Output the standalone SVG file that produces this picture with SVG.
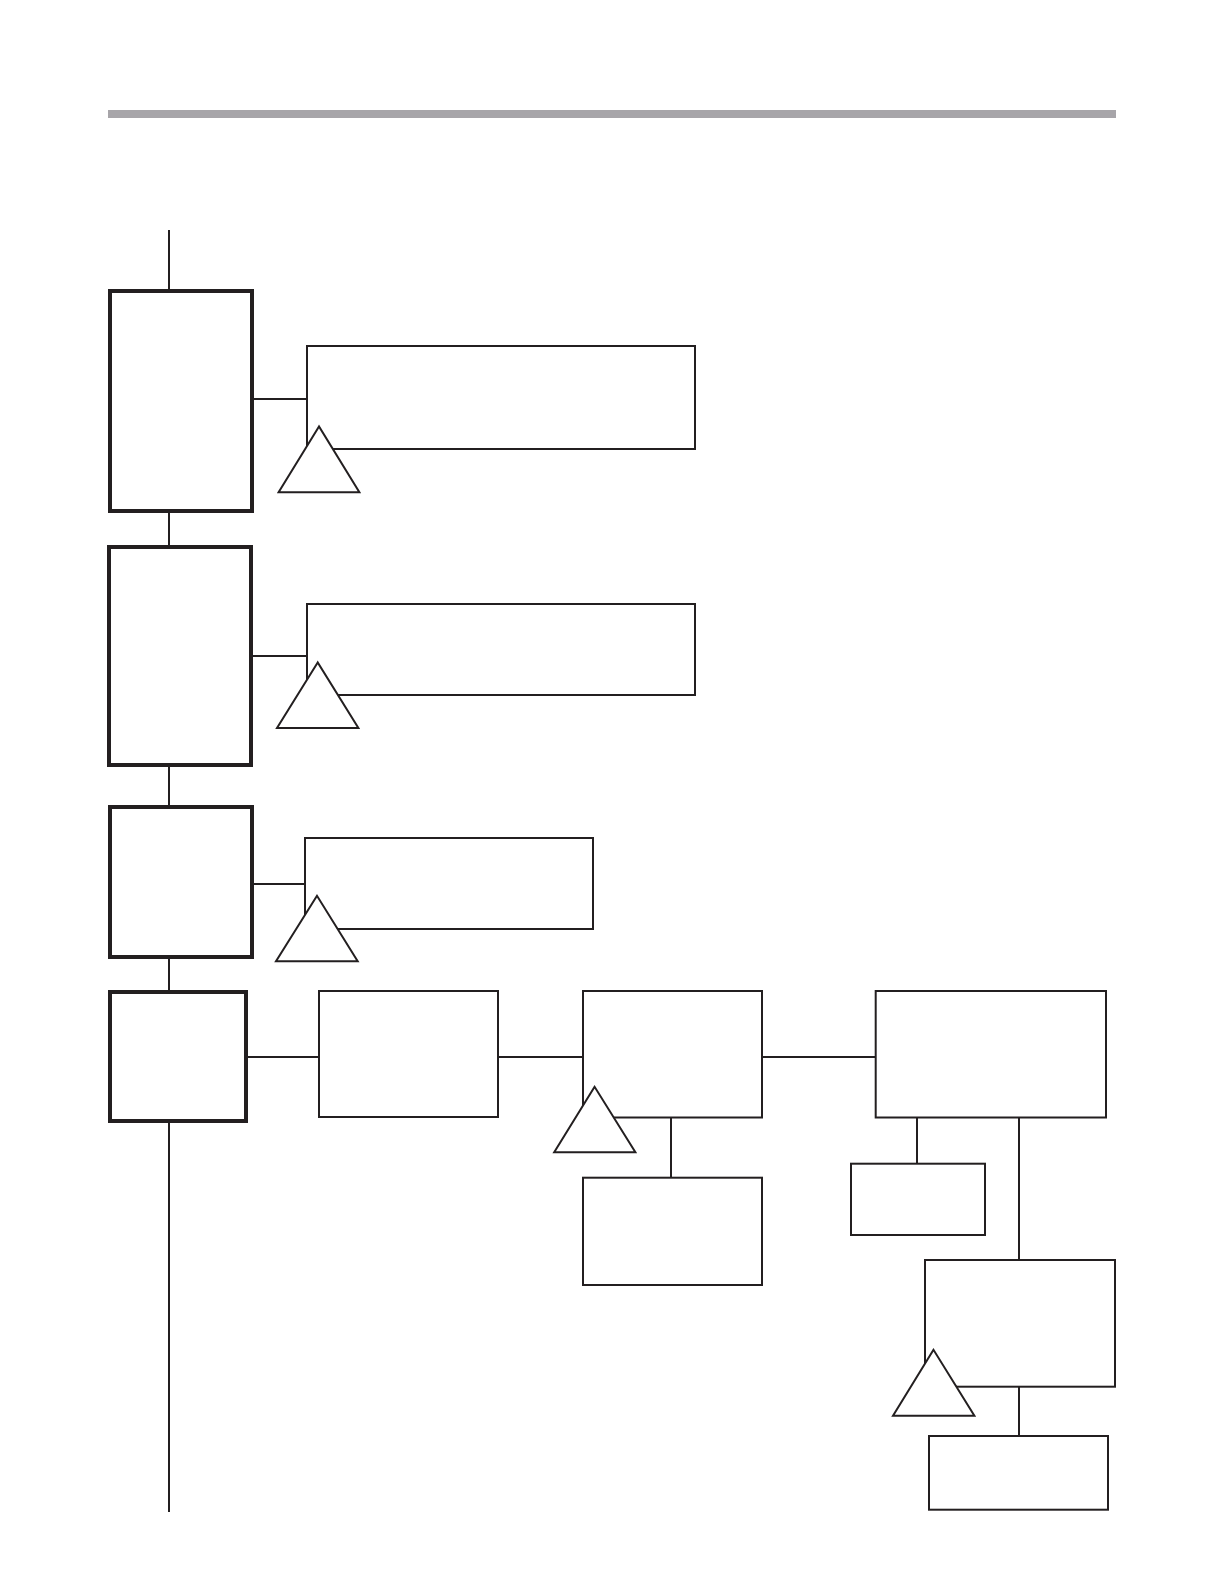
<svg xmlns="http://www.w3.org/2000/svg" width="1224" height="1584" viewBox="0 0 1224 1584">
<style>
.main{fill:#fff;stroke:#231f20;stroke-width:4}
.box{fill:#fff;stroke:#231f20;stroke-width:2}
.tri{fill:#fff;stroke:#231f20;stroke-width:2}
.con{fill:none;stroke:#231f20;stroke-width:2}
</style>
<rect width="1224" height="1584" fill="#fff"/>
<rect id="header-bar" x="108" y="110" width="1008" height="8" fill="#a7a5a9"/>
<g id="connectors" class="con">
<path d="M169 230V291"/>
<path d="M169 511V547"/>
<path d="M169 765V807"/>
<path d="M169 957V992"/>
<path d="M169 1121V1512"/>
<path d="M252 399H307"/>
<path d="M251 656H307"/>
<path d="M252 884H305"/>
<path d="M246 1057H319"/>
<path d="M498 1057H583"/>
<path d="M762 1057H875.7"/>
<path d="M671 1117.5V1177.7"/>
<path d="M917 1117.5V1163.7"/>
<path d="M1019 1117.5V1260"/>
<path d="M1019 1386.7V1436"/>
</g>
<g id="main-1"><rect class="main" x="110" y="291" width="142" height="220"/></g>
<g id="main-2"><rect class="main" x="109" y="547" width="142" height="218"/></g>
<g id="main-3"><rect class="main" x="110" y="807" width="142" height="150"/></g>
<g id="main-4"><rect class="main" x="110" y="992" width="136" height="129"/></g>
<g id="box-1"><rect class="box" x="307" y="346" width="388" height="103"/></g>
<g id="box-2"><rect class="box" x="307" y="604" width="388" height="91"/></g>
<g id="box-3"><rect class="box" x="305" y="838" width="288" height="91"/></g>
<g id="box-a"><rect class="box" x="319" y="991" width="179" height="126"/></g>
<g id="box-b"><rect class="box" x="583" y="991" width="179" height="126.5"/></g>
<g id="box-c"><rect class="box" x="583" y="1177.7" width="179" height="107.3"/></g>
<g id="box-d"><rect class="box" x="875.7" y="991" width="230.3" height="126.5"/></g>
<g id="box-e"><rect class="box" x="851" y="1163.7" width="134" height="71.3"/></g>
<g id="box-f"><rect class="box" x="925" y="1260" width="190" height="126.7"/></g>
<g id="box-g"><rect class="box" x="929" y="1436" width="179" height="73.7"/></g>
<g id="triangle-1"><polygon class="tri" points="319,426.5 278.6,492.3 359.4,492.3"/></g>
<g id="triangle-2"><polygon class="tri" points="317.7,662.5 277,728 358.4,728"/></g>
<g id="triangle-3"><polygon class="tri" points="317,895.8 276,961.3 357.7,961.3"/></g>
<g id="triangle-4"><polygon class="tri" points="594.6,1086.8 554.2,1152.3 635.4,1152.3"/></g>
<g id="triangle-5"><polygon class="tri" points="933.5,1349.8 893,1415.7 974.4,1415.7"/></g>
</svg>
